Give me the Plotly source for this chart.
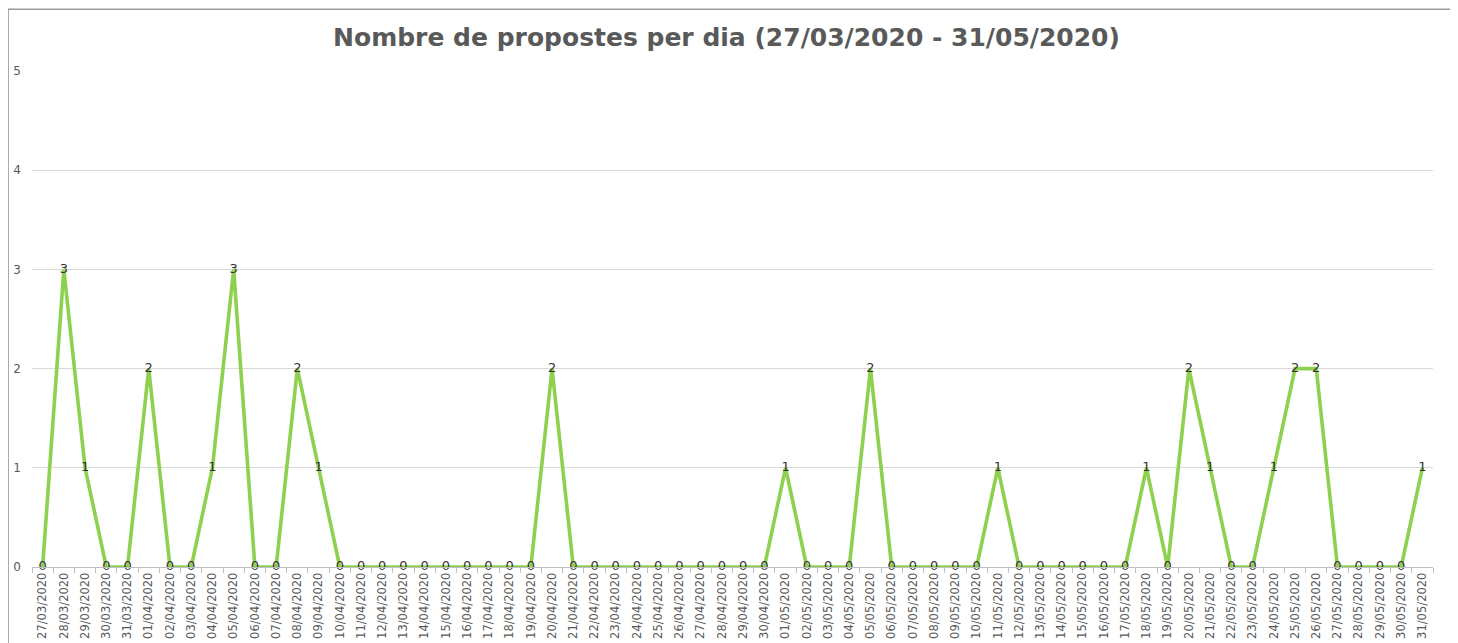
import plotly.graph_objects as go

dates = [
    "27/03/2020", "28/03/2020", "29/03/2020", "30/03/2020", "31/03/2020",
    "01/04/2020", "02/04/2020", "03/04/2020", "04/04/2020", "05/04/2020",
    "06/04/2020", "07/04/2020", "08/04/2020", "09/04/2020", "10/04/2020",
    "11/04/2020", "12/04/2020", "13/04/2020", "14/04/2020", "15/04/2020",
    "16/04/2020", "17/04/2020", "18/04/2020", "19/04/2020", "20/04/2020",
    "21/04/2020", "22/04/2020", "23/04/2020", "24/04/2020", "25/04/2020",
    "26/04/2020", "27/04/2020", "28/04/2020", "29/04/2020", "30/04/2020",
    "01/05/2020", "02/05/2020", "03/05/2020", "04/05/2020", "05/05/2020",
    "06/05/2020", "07/05/2020", "08/05/2020", "09/05/2020", "10/05/2020",
    "11/05/2020", "12/05/2020", "13/05/2020", "14/05/2020", "15/05/2020",
    "16/05/2020", "17/05/2020", "18/05/2020", "19/05/2020", "20/05/2020",
    "21/05/2020", "22/05/2020", "23/05/2020", "24/05/2020", "25/05/2020",
    "26/05/2020", "27/05/2020", "28/05/2020", "29/05/2020", "30/05/2020",
    "31/05/2020",
]
proposals = [
    0, 3, 1, 0, 0,
    2, 0, 0, 1, 3,
    0, 0, 2, 1, 0,
    0, 0, 0, 0, 0,
    0, 0, 0, 0, 2,
    0, 0, 0, 0, 0,
    0, 0, 0, 0, 0,
    1, 0, 0, 0, 2,
    0, 0, 0, 0, 0,
    1, 0, 0, 0, 0,
    0, 0, 1, 0, 2,
    1, 0, 0, 1, 2,
    2, 0, 0, 0, 0,
    1,
]
y_ticks = [0, 1, 2, 3, 4, 5]
title_text = "Nombre de propostes per dia (27/03/2020 - 31/05/2020)"

# page body has an 8px default margin; work in figure coordinates
OFF = 8
W, H = 1458 - OFF, 643 - OFF
L, R, T, B = 32.4 - OFF, 1432.6 - OFF, 71 - OFF, 567 - OFF

fig = go.Figure()
fig.add_trace(go.Scatter(
    x=dates, y=proposals, mode="lines+text",
    text=[str(v) for v in proposals], textposition="middle center",
    textfont=dict(family="DejaVu Sans", size=13, color="#333333"),
    line=dict(color="#8ED14F", width=3.6),
    cliponaxis=False, showlegend=False,
))

pw = R - L
ph = B - T
fig.add_shape(type="rect", xref="paper", yref="paper",
              x0=(0.5 - L) / pw, x1=(1452 - OFF - L) / pw,
              y0=(B - 700) / ph, y1=(B - 1.3) / ph,
              line=dict(color="#9A9A9A", width=1.5), fillcolor="rgba(0,0,0,0)",
              layer="below")

fig.update_layout(
    width=W, height=H,
    margin=dict(l=L, r=W - R, t=T, b=H - B, pad=0),
    paper_bgcolor="white", plot_bgcolor="white",
    title=dict(text="<b>" + title_text + "</b>", x=(726.5 - OFF) / W, xanchor="center",
               y=1 - (37 - OFF) / H, yanchor="middle",
               font=dict(family="DejaVu Sans", size=25, color="#595959")),
    xaxis=dict(type="category", tickangle=-90, tickson="boundaries",
               ticks="outside", ticklen=5, tickcolor="#BFBFBF",
               showline=True, linecolor="#BFBFBF", linewidth=1,
               showgrid=False, automargin=False,
               tickfont=dict(family="DejaVu Sans", size=11.5, color="#595959"),
               range=[-0.5, len(dates) - 0.5]),
    yaxis=dict(range=[0, 5], tickvals=y_ticks, showgrid=True,
               gridcolor="#D9D9D9", gridwidth=1, zeroline=False,
               showline=False, automargin=False, ticklabelstandoff=10,
               tickfont=dict(family="DejaVu Sans", size=12, color="#595959")),
)

fig.write_html("out.html")
